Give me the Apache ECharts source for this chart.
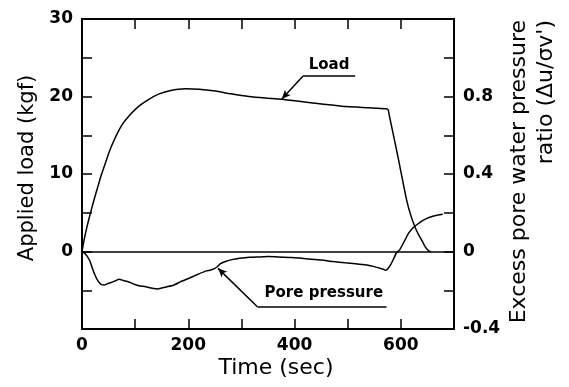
<!DOCTYPE html>
<html>
<head>
<meta charset="utf-8">
<script src="https://cdn.jsdelivr.net/npm/echarts@6/dist/echarts.min.js"></script>
<style>
html,body{margin:0;padding:0;background:#fff;}
#c{width:569px;height:387px;}
</style>
</head>
<body>
<div id="c"></div>
<script>
// Applied load (kgf) vs time (sec)
const loadData = [
  [0,0],[4,1.5],[8,2.8],[13,4.2],[18,5.5],[24,7.0],[30,8.4],[36,9.8],[42,11.0],[52,13.0],
  [62,14.6],[75,16.3],[90,17.6],[106,18.7],[125,19.6],[144,20.3],[165,20.75],[195,21.0],
  [220,20.95],[251,20.7],[280,20.35],[314,20.0],[345,19.8],[375,19.65],[430,19.2],[498,18.7],
  [540,18.55],[572,18.42],[576,18.3],[579,17.3],[594,12.4],[611,6.6],[619,4.6],[627,3.1],[633,2.2],[639,1.5],
  [645,0.7],[652,0.1],[656,0]
];
// Excess pore water pressure ratio vs time (sec)
const poreData = [
  [0,0],[6,-0.012],[14,-0.044],[20,-0.09],[25,-0.125],[30,-0.152],[35,-0.168],[42,-0.173],
  [48,-0.166],[55,-0.16],[62,-0.152],[70,-0.143],[78,-0.15],[87,-0.156],[95,-0.165],
  [102,-0.173],[110,-0.178],[120,-0.182],[132,-0.19],[143,-0.194],[150,-0.188],[160,-0.182],
  [172,-0.174],[185,-0.157],[197,-0.143],[210,-0.128],[222,-0.113],[234,-0.1],[242,-0.096],
  [248,-0.09],[254,-0.08],[260,-0.064],[270,-0.052],[282,-0.042],[297,-0.035],[315,-0.03],
  [335,-0.028],[350,-0.026],[370,-0.028],[390,-0.031],[410,-0.034],[430,-0.04],[450,-0.044],
  [473,-0.052],[495,-0.058],[515,-0.063],[536,-0.07],[550,-0.078],[561,-0.087],[567,-0.092],
  [571,-0.097],[575,-0.09],[580,-0.072],[586,-0.04],[592,-0.005],[598,0.01],[606,0.05],
  [614,0.092],[622,0.12],[630,0.138],[640,0.158],[649,0.171],[660,0.182],[670,0.188],[679,0.192]
];
const xLabels = [0, 200, 400, 600];
const leftLabels = [0, 10, 20, 30];
const rightLabels = ['-0.4', '0', '0.4', '0.8'];

// annotation anchor points (data coordinates)
const loadNote = { text: 'Load', at: [465, 24.0], lineFrom: [416, 22.65], lineTo: [514, 22.65], arrowTip: [376, 19.68] };
const poreNote = { text: 'Pore pressure', at: [455, -0.216], lineFrom: [330, -0.285], lineTo: [573, -0.285], arrowTip: [256, -0.087] };

const tickFont = { color: '#000', fontFamily: 'DejaVu Sans', fontWeight: 'bold', fontSize: 17 };
const axLine = { show: true, onZero: false, lineStyle: { color: '#000', width: 2 } };
const tick = { show: true, inside: true, length: 10, lineStyle: { color: '#000', width: 1.5 } };

const chart = echarts.init(document.getElementById('c'), null, { renderer: 'canvas' });
chart.setOption({
  animation: false,
  backgroundColor: '#fff',
  grid: { left: 82, right: 115, top: 19, bottom: 58, containLabel: false },
  xAxis: [
    { type: 'value', min: 0, max: 700, interval: 100, position: 'bottom',
      axisLine: axLine, axisTick: tick, splitLine: { show: false },
      axisLabel: Object.assign({ margin: 8, formatter: v => xLabels.indexOf(v) >= 0 ? String(v) : '' }, tickFont) },
    { type: 'value', min: 0, max: 700, interval: 100, position: 'top',
      axisLine: axLine, axisTick: tick, splitLine: { show: false }, axisLabel: { show: false } }
  ],
  yAxis: [
    { type: 'value', min: -10, max: 30, interval: 5, position: 'left',
      axisLine: axLine, axisTick: tick, splitLine: { show: false },
      axisLabel: Object.assign({ margin: 9, formatter: v => leftLabels.indexOf(v) >= 0 ? String(v) : '' }, tickFont) },
    { type: 'value', min: -0.4, max: 1.2, interval: 0.2, position: 'right',
      axisLine: axLine, axisTick: tick, splitLine: { show: false },
      axisLabel: Object.assign({ margin: 9, formatter: v => {
        const s = String(Math.round(v * 10) / 10);
        return rightLabels.indexOf(s) >= 0 ? s : '';
      } }, tickFont) }
  ],
  series: [
    { name: 'Load', type: 'line', xAxisIndex: 0, yAxisIndex: 0, data: loadData,
      showSymbol: false, smooth: 0.2, lineStyle: { color: '#000', width: 1.5 },
      markLine: { silent: true, animation: false, symbol: ['none', 'none'],
        lineStyle: { color: '#000', width: 1.5, type: 'solid' }, label: { show: false },
        data: [
          { yAxis: 0 },
          [{ coord: loadNote.lineFrom }, { coord: loadNote.lineTo }],
          [{ coord: loadNote.lineFrom, symbol: 'none' }, { coord: loadNote.arrowTip, symbol: 'arrow', symbolSize: [6, 9] }]
        ] },
      markPoint: { silent: true, animation: false, symbol: 'circle', symbolSize: 0,
        label: { show: true, position: 'inside', color: '#000', fontFamily: 'DejaVu Sans', fontWeight: 'bold', fontSize: 15, formatter: loadNote.text },
        data: [{ coord: loadNote.at, value: 0 }] } },
    { name: 'Pore pressure', type: 'line', xAxisIndex: 0, yAxisIndex: 1, data: poreData,
      showSymbol: false, smooth: 0.15, lineStyle: { color: '#000', width: 1.5 },
      markLine: { silent: true, animation: false, symbol: ['none', 'none'],
        lineStyle: { color: '#000', width: 1.5, type: 'solid' }, label: { show: false },
        data: [
          [{ coord: poreNote.lineFrom }, { coord: poreNote.lineTo }],
          [{ coord: poreNote.lineFrom, symbol: 'none' }, { coord: poreNote.arrowTip, symbol: 'arrow', symbolSize: [6, 9] }]
        ] },
      markPoint: { silent: true, animation: false, symbol: 'circle', symbolSize: 0,
        label: { show: true, position: 'inside', color: '#000', fontFamily: 'DejaVu Sans', fontWeight: 'bold', fontSize: 15, formatter: poreNote.text },
        data: [{ coord: poreNote.at, value: 0 }] } }
  ],
  graphic: [
    { type: 'text', x: 276, y: 368, silent: true,
      style: { text: 'Time (sec)', font: '22px "DejaVu Sans"', fill: '#000', textAlign: 'center', textVerticalAlign: 'middle', align: 'center', verticalAlign: 'middle' } },
    { type: 'text', x: 28, y: 168, rotation: Math.PI / 2, silent: true,
      style: { text: 'Applied load (kgf)', font: '21px "DejaVu Sans"', fill: '#000', textAlign: 'center', textVerticalAlign: 'middle', align: 'center', verticalAlign: 'middle' } },
    { type: 'text', x: 519, y: 20, rotation: Math.PI / 2, silent: true,
      style: { text: 'Excess pore water pressure', font: '22px "DejaVu Sans"', fill: '#000', textAlign: 'right', textVerticalAlign: 'middle', align: 'right', verticalAlign: 'middle' } },
    { type: 'text', x: 546, y: 20, rotation: Math.PI / 2, silent: true,
      style: { text: "ratio (Δu/σv')", font: '22px "DejaVu Sans"', fill: '#000', textAlign: 'right', textVerticalAlign: 'middle', align: 'right', verticalAlign: 'middle' } }
  ]
});
</script>
</body>
</html>
